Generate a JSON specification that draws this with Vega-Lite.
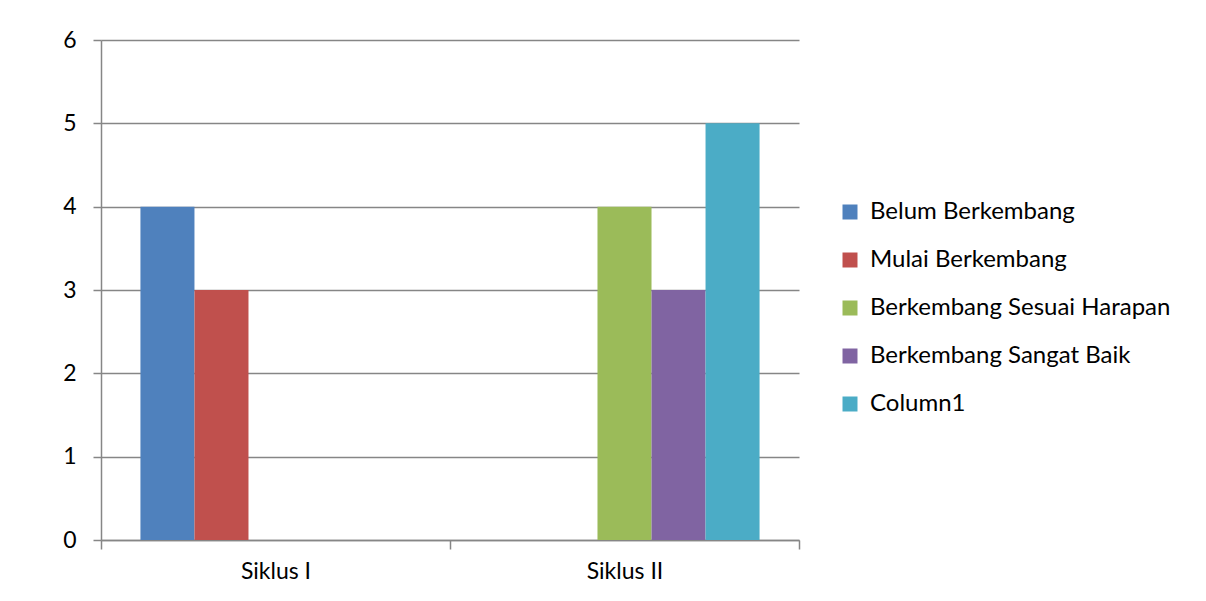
{
  "$schema": "https://vega.github.io/schema/vega-lite/v6.json",
  "width": 698,
  "height": 500,
  "autosize": "none",
  "padding": {"left": 101, "top": 40, "right": 407, "bottom": 61},
  "background": "white",
  "config": {
    "view": {"stroke": null},
    "font": "Lato"
  },
  "data": {
    "values": [
      {"siklus": "Siklus I", "kategori": "Belum Berkembang", "nilai": 4},
      {"siklus": "Siklus I", "kategori": "Mulai Berkembang", "nilai": 3},
      {"siklus": "Siklus II", "kategori": "Berkembang Sesuai Harapan", "nilai": 4},
      {"siklus": "Siklus II", "kategori": "Berkembang Sangat Baik", "nilai": 3},
      {"siklus": "Siklus II", "kategori": "Column1", "nilai": 5}
    ]
  },
  "mark": {"type": "bar"},
  "encoding": {
    "x": {
      "field": "siklus",
      "type": "nominal",
      "sort": ["Siklus I", "Siklus II"],
      "scale": {"paddingInner": 0, "paddingOuter": 0},
      "axis": {
        "title": null,
        "labelAngle": 0,
        "labelFontSize": 23,
        "labelColor": "#000000",
        "labelPadding": 11,
        "tickBand": "extent",
        "tickSize": 9,
        "tickColor": "#868686",
        "domainColor": "#868686",
        "domainWidth": 1.5,
        "tickWidth": 1.5,
        "grid": false
      }
    },
    "xOffset": {
      "field": "kategori",
      "type": "nominal",
      "scale": {
        "domain": ["Belum Berkembang", "Mulai Berkembang", "Berkembang Sesuai Harapan", "Berkembang Sangat Baik", "Column1"],
        "paddingInner": 0,
        "paddingOuter": 0.73
      }
    },
    "y": {
      "field": "nilai",
      "type": "quantitative",
      "scale": {"domain": [0, 6], "nice": false},
      "axis": {
        "title": null,
        "values": [0, 1, 2, 3, 4, 5, 6],
        "labelFontSize": 23,
        "labelColor": "#000000",
        "labelPadding": 17,
        "tickSize": 8,
        "tickColor": "#868686",
        "tickWidth": 1.5,
        "domainColor": "#868686",
        "domainWidth": 1.5,
        "grid": true,
        "gridColor": "#868686",
        "gridWidth": 1.5
      }
    },
    "color": {
      "field": "kategori",
      "type": "nominal",
      "scale": {
        "domain": ["Belum Berkembang", "Mulai Berkembang", "Berkembang Sesuai Harapan", "Berkembang Sangat Baik", "Column1"],
        "range": ["#4F81BD", "#C0504D", "#9BBB59", "#8064A2", "#4BACC6"]
      },
      "legend": {
        "title": null,
        "orient": "none",
        "legendX": 737,
        "legendY": 160,
        "symbolType": "square",
        "symbolSize": 225,
        "symbolStrokeWidth": 0,
        "labelFontSize": 24,
        "labelColor": "#000000",
        "labelOffset": 8,
        "rowPadding": 24,
        "labelLimit": 400
      }
    }
  }
}
